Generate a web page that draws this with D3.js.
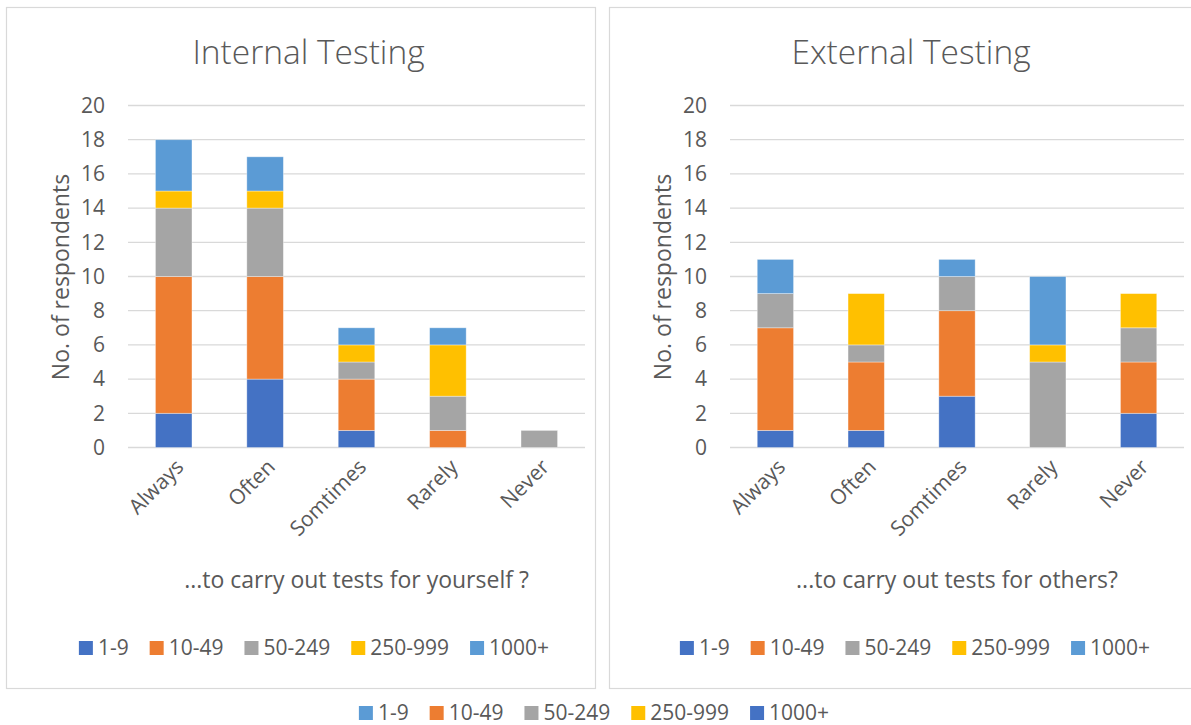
<!DOCTYPE html>
<html>
<head>
<meta charset="utf-8">
<script src="https://cdn.jsdelivr.net/npm/d3@7"></script>
<style>
  body { margin: 0; background: #fff; }
  text { font-family: "Open Sans", Lato, sans-serif; fill: #595959; }
</style>
</head>
<body>
<script>
// categories and series
var categories = ["Always", "Often", "Somtimes", "Rarely", "Never"];
var sizes = ["1-9", "10-49", "50-249", "250-999", "1000+"];
var yTicks = [0, 2, 4, 6, 8, 10, 12, 14, 16, 18, 20];

// internal testing, one array per company size (in category order)
var internal_1_9 = [2, 4, 1, 0, 0];
var internal_10_49 = [8, 6, 3, 1, 0];
var internal_50_249 = [4, 4, 1, 2, 1];
var internal_250_999 = [1, 1, 1, 3, 0];
var internal_1000 = [3, 2, 1, 1, 0];

// external testing
var external_1_9 = [1, 1, 3, 0, 2];
var external_10_49 = [6, 4, 5, 0, 3];
var external_50_249 = [2, 1, 2, 5, 2];
var external_250_999 = [0, 3, 0, 1, 2];
var external_1000 = [2, 0, 1, 4, 0];

var colors = ["#4472C4", "#ED7D31", "#A5A5A5", "#FFC000", "#5B9BD5"];
var bottomColors = ["#5B9BD5", "#ED7D31", "#A5A5A5", "#FFC000", "#4472C4"];

var width = 1191, height = 725;

var svg = d3.select("body")
            .append("svg")
            .attr("width", width)
            .attr("height", height);

function buildRows(series) {
  // turn the series arrays into rows for d3.stack
  return categories.map(function(c, i) {
    var row = {cat: c};
    sizes.forEach(function(s, j) { row[s] = series[j][i]; });
    return row;
  });
}

function drawLegend(g, cx, cy, cols) {
  // legend centred on cx
  var items = g.append("g");
  var x = 0;
  sizes.forEach(function(s, i) {
    items.append("rect")
         .attr("x", x)
         .attr("y", cy - 7)
         .attr("width", 14)
         .attr("height", 14)
         .attr("fill", cols[i]);
    var t = items.append("text")
                 .attr("x", x + 19)
                 .attr("y", cy)
                 .attr("dy", "0.35em")
                 .style("font-size", "21px")
                 .text(s);
    x += 19 + t.node().getComputedTextLength() + 21;
  });
  x -= 21;
  items.attr("transform", "translate(" + (cx - x / 2) + ",0)");
}

function drawPanel(p) {
  var g = svg.append("g");

  // panel border
  g.append("rect")
   .attr("x", p.box[0] + 0.5)
   .attr("y", p.box[1] + 0.5)
   .attr("width", p.box[2])
   .attr("height", p.box[3])
   .attr("fill", "none")
   .attr("stroke", "#d9d9d9")
   .attr("stroke-width", 1.2);

  var x = d3.scaleBand()
            .domain(categories)
            .range([p.left, p.right])
            .paddingInner(0.6)
            .paddingOuter(0.3);
  var y = d3.scaleLinear()
            .domain([0, 20])
            .range([447.5, 105.5]);

  // gridlines
  g.selectAll(".grid")
   .data(yTicks)
   .enter()
   .append("line")
   .attr("x1", p.left)
   .attr("x2", p.right)
   .attr("y1", function(d) { return y(d); })
   .attr("y2", function(d) { return y(d); })
   .attr("stroke", "#d9d9d9")
   .attr("stroke-width", 1.3);

  // y tick labels
  g.selectAll(".ytick")
   .data(yTicks)
   .enter()
   .append("text")
   .attr("x", p.left - 23)
   .attr("y", function(d) { return y(d); })
   .attr("dy", "0.35em")
   .attr("text-anchor", "end")
   .style("font-size", "21px")
   .text(function(d) { return d; });

  // stacked bars
  var stack = d3.stack().keys(sizes)(buildRows(p.series));
  g.selectAll(".layer")
   .data(stack)
   .enter()
   .append("g")
   .attr("fill", function(d, i) { return colors[i]; })
   .selectAll("rect")
   .data(function(d) { return d; })
   .enter()
   .filter(function(d) { return d[1] - d[0] > 0; })
   .append("rect")
   .attr("x", function(d) { return x(d.data.cat); })
   .attr("width", x.bandwidth())
   .attr("y", function(d) { return y(d[1]); })
   .attr("height", function(d) { return y(d[0]) - y(d[1]); })
   .attr("stroke", "#ffffff")
   .attr("stroke-opacity", 0.45)
   .attr("stroke-width", 0.8);

  // x tick labels
  g.selectAll(".xtick")
   .data(categories)
   .enter()
   .append("text")
   .attr("text-anchor", "end")
   .attr("transform", function(d) {
     return "translate(" + (x(d) + x.bandwidth() / 2 + 6) + "," + 463 + ") rotate(-45)";
   })
   .attr("dy", "0.35em")
   .style("font-size", "21px")
   .text(function(d) { return d; });

  // title
  g.append("text")
   .attr("x", (p.box[0] + p.box[0] + p.box[2]) / 2 + p.titleShift)
   .attr("y", 52)
   .attr("dy", "0.35em")
   .attr("text-anchor", "middle")
   .style("font-size", "33.5px")
   .style("font-weight", 300)
   .text(p.title);

  // axis titles
  g.append("text")
   .attr("transform", "translate(" + (p.left - 67) + "," + 277 + ") rotate(-90)")
   .attr("dy", "0.35em")
   .attr("text-anchor", "middle")
   .style("font-size", "23px")
   .text("No. of respondents");

  g.append("text")
   .attr("x", (p.left + p.right) / 2)
   .attr("y", 580)
   .attr("dy", "0.35em")
   .attr("text-anchor", "middle")
   .style("font-size", "23px")
   .text(p.xTitle);

  drawLegend(g, p.legendX, 648, colors);
}

drawPanel({
  box: [6, 7, 589, 681],
  left: 128, right: 585,
  title: "Internal Testing",
  titleShift: 8,
  xTitle: "...to carry out tests for yourself ?",
  legendX: 314,
  series: [internal_1_9, internal_10_49, internal_50_249, internal_250_999, internal_1000]
});

drawPanel({
  box: [609, 7, 600, 681],
  left: 730, right: 1184,
  title: "External Testing",
  titleShift: 2,
  xTitle: "...to carry out tests for others?",
  legendX: 915,
  series: [external_1_9, external_10_49, external_50_249, external_250_999, external_1000]
});

// shared legend underneath
drawLegend(svg.append("g"), 594, 713, bottomColors);
</script>
</body>
</html>
